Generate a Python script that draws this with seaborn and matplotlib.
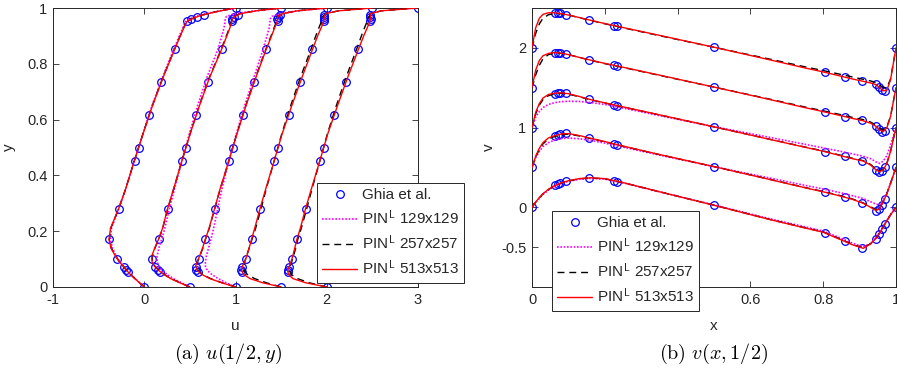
import matplotlib
matplotlib.use("Agg")
import matplotlib.pyplot as plt
from matplotlib.lines import Line2D
import seaborn as sns
import numpy as np
import pandas as pd

sns.set_theme(style="white")
plt.rcParams["font.family"] = ["Liberation Sans", "DejaVu Sans"]
plt.rcParams["mathtext.fontset"] = "cm"

reynolds = [1000, 3200, 5000, 7500, 10000]
offsets = [0.0, 0.5, 1.0, 1.5, 2.0]

# Reference values of Ghia et al. along the vertical centre line
y_ghia = [1.0, 0.9766, 0.9688, 0.9609, 0.9531, 0.8516, 0.7344, 0.6172, 0.5,
          0.4531, 0.2813, 0.1719, 0.1016, 0.0703, 0.0625, 0.0547, 0.0]
u_ghia_1000 = [1, 0.65928, 0.57492, 0.51117, 0.46604, 0.33304, 0.18719, 0.05702, -0.06080,
               -0.10648, -0.27805, -0.38289, -0.29730, -0.22220, -0.20196, -0.18109, 0]
u_ghia_3200 = [1, 0.53236, 0.48296, 0.46547, 0.46101, 0.34682, 0.19791, 0.07156, -0.04272,
               -0.08636, -0.24427, -0.34323, -0.41933, -0.37827, -0.35344, -0.32407, 0]
u_ghia_5000 = [1, 0.48223, 0.46120, 0.45992, 0.46036, 0.33556, 0.20087, 0.08183, -0.03039,
               -0.07404, -0.22855, -0.33050, -0.40435, -0.43643, -0.42901, -0.41165, 0]
u_ghia_7500 = [1, 0.47244, 0.47048, 0.47323, 0.47167, 0.34228, 0.20591, 0.08342, -0.03800,
               -0.07503, -0.23176, -0.32393, -0.38324, -0.43025, -0.43590, -0.43154, 0]
u_ghia_10000 = [1, 0.47221, 0.47783, 0.48070, 0.47804, 0.34635, 0.20673, 0.08344, -0.03111,
                -0.07540, -0.23186, -0.32709, -0.38000, -0.41657, -0.42537, -0.42735, 0]

# Reference values of Ghia et al. along the horizontal centre line
x_ghia = [1.0, 0.9688, 0.9609, 0.9531, 0.9453, 0.9063, 0.8594, 0.8047, 0.5,
          0.2344, 0.2266, 0.1563, 0.0938, 0.0781, 0.0703, 0.0625, 0.0]
v_ghia_1000 = [0, -0.21388, -0.27669, -0.33714, -0.39188, -0.51550, -0.42665, -0.31966, 0.02526,
               0.32235, 0.33075, 0.37095, 0.32627, 0.30353, 0.29012, 0.27485, 0]
v_ghia_3200 = [0, -0.39017, -0.47425, -0.52357, -0.54053, -0.44307, -0.37401, -0.31184, 0.00999,
               0.28188, 0.29030, 0.37119, 0.42768, 0.41906, 0.40917, 0.39560, 0]
v_ghia_5000 = [0, -0.49774, -0.55069, -0.55408, -0.52876, -0.41442, -0.36214, -0.30018, 0.00945,
               0.27280, 0.28066, 0.35368, 0.42951, 0.43648, 0.43329, 0.42447, 0]
v_ghia_7500 = [0, -0.53858, -0.55216, -0.52347, -0.48590, -0.41050, -0.36213, -0.30448, 0.00824,
               0.27348, 0.28117, 0.35060, 0.41824, 0.43564, 0.44030, 0.43979, 0]
v_ghia_10000 = [0, -0.54302, -0.52987, -0.49099, -0.45863, -0.41496, -0.36737, -0.30719, 0.00831,
                0.27224, 0.28003, 0.35070, 0.41487, 0.43124, 0.43733, 0.43983, 0]

# PIN^L profiles u(1/2, y)
y_line = [0, 0.015, 0.03, 0.045, 0.06, 0.075, 0.09, 0.11, 0.14, 0.17, 0.21, 0.28, 0.35,
          0.45, 0.55, 0.65, 0.75, 0.85, 0.9, 0.93, 0.95, 0.96, 0.97, 0.98, 0.99, 1.0]

u513_1000 = [0, -0.052, -0.103, -0.152, -0.195, -0.233, -0.272, -0.315, -0.365, -0.386, -0.37, -0.282, -0.205,
             -0.111, -0.012, 0.09, 0.205, 0.331, 0.395, 0.435, 0.465, 0.515, 0.59, 0.70, 0.84, 1.0]
u513_3200 = [0, -0.11, -0.21, -0.285, -0.345, -0.39, -0.414, -0.418, -0.385, -0.345, -0.30, -0.245, -0.18,
             -0.089, 0.004, 0.105, 0.215, 0.345, 0.405, 0.44, 0.458, 0.465, 0.49, 0.56, 0.73, 1.0]
u513_5000 = [0, -0.15, -0.28, -0.37, -0.42, -0.436, -0.42, -0.395, -0.36, -0.332, -0.29, -0.23, -0.17,
             -0.075, 0.017, 0.115, 0.222, 0.334, 0.395, 0.43, 0.455, 0.46, 0.465, 0.52, 0.68, 1.0]
u513_7500 = [0, -0.20, -0.34, -0.41, -0.435, -0.425, -0.40, -0.378, -0.35, -0.325, -0.29, -0.232, -0.17,
             -0.078, 0.012, 0.117, 0.227, 0.342, 0.40, 0.44, 0.465, 0.47, 0.472, 0.49, 0.63, 1.0]
u513_10000 = [0, -0.23, -0.37, -0.42, -0.428, -0.41, -0.392, -0.373, -0.35, -0.328, -0.29, -0.233, -0.17,
              -0.078, 0.012, 0.118, 0.228, 0.345, 0.405, 0.445, 0.47, 0.48, 0.478, 0.48, 0.60, 1.0]

u257_1000 = [0, -0.051, -0.102, -0.150, -0.193, -0.231, -0.270, -0.313, -0.362, -0.383, -0.368, -0.281, -0.205,
             -0.111, -0.013, 0.089, 0.203, 0.329, 0.393, 0.433, 0.462, 0.51, 0.585, 0.695, 0.835, 1.0]
u257_3200 = [0, -0.108, -0.205, -0.28, -0.34, -0.385, -0.41, -0.414, -0.382, -0.343, -0.298, -0.243, -0.179,
             -0.089, 0.003, 0.103, 0.212, 0.341, 0.40, 0.435, 0.452, 0.46, 0.485, 0.555, 0.725, 1.0]
u257_5000 = [0, -0.145, -0.272, -0.362, -0.412, -0.43, -0.416, -0.392, -0.357, -0.33, -0.288, -0.228, -0.169,
             -0.075, 0.015, 0.112, 0.218, 0.33, 0.39, 0.424, 0.448, 0.455, 0.46, 0.515, 0.675, 1.0]
u257_7500 = [0, -0.16, -0.29, -0.37, -0.41, -0.415, -0.40, -0.38, -0.35, -0.32, -0.28, -0.22, -0.165,
             -0.078, 0.008, 0.105, 0.21, 0.325, 0.38, 0.415, 0.44, 0.45, 0.46, 0.49, 0.63, 1.0]
u257_10000 = [0, -0.19, -0.32, -0.39, -0.41, -0.40, -0.385, -0.365, -0.34, -0.318, -0.28, -0.22, -0.163,
              -0.077, 0.008, 0.105, 0.21, 0.325, 0.38, 0.415, 0.44, 0.455, 0.465, 0.48, 0.60, 1.0]

u129_1000 = [0, -0.05, -0.10, -0.148, -0.19, -0.228, -0.265, -0.305, -0.35, -0.37, -0.36, -0.28, -0.205,
             -0.112, -0.015, 0.085, 0.198, 0.32, 0.385, 0.425, 0.45, 0.49, 0.57, 0.68, 0.83, 1.0]
u129_3200 = [0, -0.09, -0.18, -0.25, -0.305, -0.34, -0.358, -0.36, -0.34, -0.31, -0.275, -0.225, -0.17,
             -0.09, -0.005, 0.085, 0.185, 0.305, 0.35, 0.375, 0.385, 0.387, 0.40, 0.50, 0.72, 1.0]
u129_5000 = [0, -0.10, -0.19, -0.26, -0.31, -0.33, -0.33, -0.32, -0.295, -0.27, -0.24, -0.195, -0.15,
             -0.075, 0.01, 0.10, 0.20, 0.30, 0.345, 0.37, 0.377, 0.38, 0.40, 0.50, 0.68, 1.0]

# PIN^L profiles v(x, 1/2)
x_line = [0, 0.01, 0.02, 0.03, 0.045, 0.06, 0.08, 0.1, 0.13, 0.16, 0.2, 0.25, 0.35, 0.5,
          0.65, 0.75, 0.8, 0.85, 0.88, 0.91, 0.93, 0.945, 0.955, 0.965, 0.975, 0.985, 1.0]

v513_1000 = [0, 0.065, 0.12, 0.17, 0.225, 0.268, 0.307, 0.333, 0.36, 0.37, 0.36, 0.31, 0.195, 0.025,
             -0.15, -0.26, -0.313, -0.41, -0.47, -0.515, -0.46, -0.39, -0.325, -0.245, -0.17, -0.095, 0]
v513_3200 = [0, 0.14, 0.24, 0.31, 0.37, 0.395, 0.42, 0.425, 0.40, 0.367, 0.325, 0.268, 0.162, 0.01,
             -0.148, -0.255, -0.306, -0.362, -0.40, -0.45, -0.50, -0.54, -0.52, -0.43, -0.33, -0.20, 0]
v513_5000 = [0, 0.19, 0.30, 0.37, 0.415, 0.43, 0.436, 0.425, 0.39, 0.352, 0.31, 0.26, 0.16, 0.009,
             -0.145, -0.247, -0.297, -0.355, -0.39, -0.42, -0.47, -0.53, -0.555, -0.53, -0.45, -0.30, 0]
v513_7500 = [0, 0.22, 0.34, 0.40, 0.43, 0.44, 0.434, 0.415, 0.38, 0.347, 0.305, 0.257, 0.158, 0.008,
             -0.145, -0.25, -0.30, -0.352, -0.385, -0.415, -0.445, -0.485, -0.53, -0.55, -0.50, -0.36, 0]
v513_10000 = [0, 0.25, 0.37, 0.42, 0.44, 0.44, 0.43, 0.412, 0.38, 0.347, 0.305, 0.255, 0.157, 0.008,
              -0.147, -0.252, -0.302, -0.357, -0.39, -0.42, -0.44, -0.46, -0.50, -0.54, -0.53, -0.40, 0]

v257_1000 = [0, 0.064, 0.118, 0.168, 0.222, 0.265, 0.304, 0.33, 0.357, 0.367, 0.358, 0.309, 0.195, 0.026,
             -0.148, -0.257, -0.31, -0.405, -0.465, -0.51, -0.457, -0.387, -0.322, -0.243, -0.168, -0.094, 0]
v257_3200 = [0, 0.13, 0.225, 0.295, 0.355, 0.385, 0.41, 0.418, 0.395, 0.363, 0.322, 0.266, 0.161, 0.01,
             -0.146, -0.252, -0.302, -0.357, -0.395, -0.445, -0.492, -0.53, -0.512, -0.425, -0.327, -0.198, 0]
v257_5000 = [0, 0.17, 0.28, 0.35, 0.40, 0.42, 0.43, 0.42, 0.386, 0.349, 0.308, 0.258, 0.159, 0.009,
             -0.143, -0.244, -0.293, -0.35, -0.385, -0.415, -0.462, -0.52, -0.545, -0.522, -0.445, -0.297, 0]
v257_7500 = [0, 0.16, 0.28, 0.36, 0.415, 0.432, 0.432, 0.415, 0.38, 0.345, 0.302, 0.254, 0.155, 0.008,
             -0.14, -0.242, -0.29, -0.34, -0.372, -0.40, -0.43, -0.47, -0.51, -0.53, -0.49, -0.36, 0]
v257_10000 = [0, 0.18, 0.30, 0.37, 0.415, 0.43, 0.428, 0.412, 0.378, 0.345, 0.302, 0.252, 0.153, 0.008,
              -0.138, -0.238, -0.285, -0.335, -0.365, -0.395, -0.415, -0.435, -0.465, -0.50, -0.50, -0.39, 0]

v129_1000 = [0, 0.06, 0.113, 0.16, 0.215, 0.258, 0.298, 0.325, 0.352, 0.362, 0.353, 0.307, 0.195, 0.03,
             -0.14, -0.245, -0.298, -0.39, -0.45, -0.495, -0.455, -0.38, -0.315, -0.24, -0.165, -0.09, 0]
v129_3200 = [0, 0.12, 0.20, 0.26, 0.31, 0.34, 0.362, 0.368, 0.36, 0.34, 0.305, 0.255, 0.155, 0.01,
             -0.13, -0.225, -0.27, -0.32, -0.355, -0.39, -0.43, -0.46, -0.47, -0.41, -0.32, -0.20, 0]
v129_5000 = [0, 0.13, 0.20, 0.25, 0.29, 0.31, 0.325, 0.33, 0.328, 0.315, 0.29, 0.245, 0.15, 0.012,
             -0.12, -0.21, -0.255, -0.30, -0.33, -0.36, -0.39, -0.43, -0.45, -0.42, -0.35, -0.22, 0]

u_ghia = [u_ghia_1000, u_ghia_3200, u_ghia_5000, u_ghia_7500, u_ghia_10000]
v_ghia = [v_ghia_1000, v_ghia_3200, v_ghia_5000, v_ghia_7500, v_ghia_10000]
u513 = [u513_1000, u513_3200, u513_5000, u513_7500, u513_10000]
u257 = [u257_1000, u257_3200, u257_5000, u257_7500, u257_10000]
u129 = [u129_1000, u129_3200, u129_5000]
v513 = [v513_1000, v513_3200, v513_5000, v513_7500, v513_10000]
v257 = [v257_1000, v257_3200, v257_5000, v257_7500, v257_10000]
v129 = [v129_1000, v129_3200, v129_5000]

labels = ["Ghia et al.", r"PIN$^{\mathsf{L}}$ 129x129", r"PIN$^{\mathsf{L}}$ 257x257",
          r"PIN$^{\mathsf{L}}$ 513x513"]

ink = "#262626"
line_lw = 1.0
styles = {
    "129": dict(color="#ff00ff", linestyle=(0, (1, 1)), lw=1.2, zorder=3),
    "257": dict(color="black", linestyle=(0, (5, 3.5)), lw=line_lw, zorder=4),
    "513": dict(color="red", linestyle="-", lw=line_lw, zorder=5),
}
ghia_style = dict(marker="o", linestyle="", markerfacecolor="none", markeredgecolor="blue",
                  color="blue", markersize=5.5, markeredgewidth=0.9, zorder=2)

fig = plt.figure(figsize=(8.97, 3.76), dpi=100)
ax1 = fig.add_axes([53 / 897, 1 - 287 / 376, 365 / 897, 279 / 376])
ax2 = fig.add_axes([532 / 897, 1 - 287 / 376, 364 / 897, 279 / 376])


def draw(ax, xs, ys, **kw):
    df = pd.DataFrame({"a": xs, "b": ys})
    sns.lineplot(data=df, x="a", y="b", sort=False, estimator=None, ax=ax,
                 legend=False, **kw)


# --- u(1/2, y) ---
for i, off in enumerate(offsets):
    draw(ax1, np.add(u_ghia[i], off), y_ghia, **ghia_style)
for i, off in enumerate(offsets[:3]):
    draw(ax1, np.add(u129[i], off), y_line, **styles["129"])
for i, off in enumerate(offsets):
    draw(ax1, np.add(u257[i], off), y_line, **styles["257"])
for i, off in enumerate(offsets):
    draw(ax1, np.add(u513[i], off), y_line, **styles["513"])

# --- v(x, 1/2) ---
for i, off in enumerate(offsets):
    draw(ax2, x_ghia, np.add(v_ghia[i], off), **ghia_style)
for i, off in enumerate(offsets[:3]):
    draw(ax2, x_line, np.add(v129[i], off), **styles["129"])
for i, off in enumerate(offsets):
    draw(ax2, x_line, np.add(v257[i], off), **styles["257"])
for i, off in enumerate(offsets):
    draw(ax2, x_line, np.add(v513[i], off), **styles["513"])

ax1.set_xlim(-1, 3)
ax1.set_ylim(0, 1)
ax1.set_xticks([-1, 0, 1, 2, 3])
ax1.set_xticklabels(["-1", "0", "1", "2", "3"])
ax1.set_yticks([0, 0.2, 0.4, 0.6, 0.8, 1])
ax1.set_yticklabels(["0", "0.2", "0.4", "0.6", "0.8", "1"])
ax1.set_xlabel("u", fontsize=11, color=ink, labelpad=9)
ax1.set_ylabel("y", fontsize=11, color=ink, labelpad=8)

ax2.set_xlim(0, 1)
ax2.set_ylim(-1, 2.5)
ax2.set_xticks([0, 0.2, 0.4, 0.6, 0.8, 1])
ax2.set_xticklabels(["0", "0.2", "0.4", "0.6", "0.8", "1"])
ax2.set_yticks([-0.5, 0, 1, 2])
ax2.set_yticklabels(["-0.5", "0", "1", "2"])
ax2.set_xlabel("x", fontsize=11, color=ink, labelpad=9)
ax2.set_ylabel("v", fontsize=11, color=ink, labelpad=4)

for ax in (ax1, ax2):
    for s in ax.spines.values():
        s.set_visible(True)
        s.set_color(ink)
        s.set_linewidth(0.7)
    ax.tick_params(direction="in", length=4, width=0.6, color=ink, labelcolor=ink,
                   labelsize=10.5, top=True, right=True, bottom=True, left=True, pad=4)
    ax.grid(False)

handles = [
    Line2D([], [], **{k: v for k, v in ghia_style.items() if k != "zorder"}),
    Line2D([], [], color="#ff00ff", linestyle=(0, (1, 1)), lw=1.2),
    Line2D([], [], color="black", linestyle=(0, (5, 3.5)), lw=line_lw),
    Line2D([], [], color="red", linestyle="-", lw=line_lw),
]
leg_kw = dict(loc="upper left", frameon=True, fancybox=False, framealpha=1, edgecolor=ink,
              fontsize=11, handlelength=2.3, handletextpad=0.3, labelspacing=0.45,
              borderpad=0.35, borderaxespad=0)
leg1 = fig.legend(handles, labels, bbox_to_anchor=(317 / 897, 1 - 183 / 376), **leg_kw)
leg2 = fig.legend(handles, labels, bbox_to_anchor=(552 / 897, 1 - 211 / 376), **leg_kw)
for leg in (leg1, leg2):
    leg.get_frame().set_linewidth(0.7)
    leg.set_zorder(10)

fig.text(228 / 897, 1 - 354 / 376, r"$\mathrm{(a)}\ u(1/2, y)$", ha="center", va="center",
         fontsize=14.5, color="black")
fig.text(713 / 897, 1 - 354 / 376, r"$\mathrm{(b)}\ v(x, 1/2)$", ha="center", va="center",
         fontsize=14.5, color="black")

fig.savefig("out.png", dpi=100)
